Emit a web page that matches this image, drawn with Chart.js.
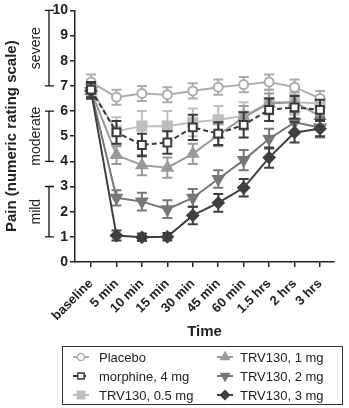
<!DOCTYPE html>
<html>
<head>
<meta charset="utf-8">
<script src="https://cdn.jsdelivr.net/npm/chart.js@4.4.0/dist/chart.umd.min.js"></script>
<style>
  html, body { margin: 0; background: #fff; }
</style>
</head>
<body>
<canvas id="pain" width="349" height="408"></canvas>
<script>
// time points after dosing
const timeLabels = ['baseline', '5 min', '10 min', '15 min', '30 min', '45 min', '60 min', '1.5 hrs', '2 hrs', '3 hrs'];

// mean pain score and SE per group
const placebo     = [7.15, 6.55, 6.7, 6.65, 6.8, 6.95, 7.05, 7.15, 6.95, 6.5];
const placeboSE   = [0.3, 0.3, 0.3, 0.3, 0.3, 0.3, 0.3, 0.3, 0.3, 0.3];
const morphine    = [6.85, 5.15, 4.65, 4.75, 5.35, 5.1, 5.45, 6.05, 6.15, 6.05];
const morphineSE  = [0.3, 0.45, 0.45, 0.45, 0.5, 0.45, 0.5, 0.45, 0.45, 0.4];
const trv05       = [6.9, 5.2, 5.4, 5.4, 5.55, 5.65, 5.8, 6.35, 6.35, 6.3];
const trv05SE     = [0.3, 0.55, 0.6, 0.6, 0.55, 0.55, 0.55, 0.5, 0.5, 0.5];
const trv1        = [6.8, 4.25, 3.85, 3.75, 4.3, 5.05, 5.75, 6.3, 6.35, 5.8];
const trv1SE      = [0.3, 0.35, 0.4, 0.4, 0.4, 0.45, 0.45, 0.4, 0.4, 0.4];
const trv2        = [6.8, 2.55, 2.4, 2.1, 2.55, 3.3, 4.05, 4.9, 5.55, 5.35];
const trv2SE      = [0.3, 0.3, 0.35, 0.35, 0.35, 0.35, 0.4, 0.4, 0.4, 0.4];
const trv3        = [6.8, 1.05, 0.98, 1.0, 1.85, 2.35, 2.95, 4.15, 5.15, 5.3];
const trv3SE      = [0.3, 0.2, 0.15, 0.15, 0.35, 0.35, 0.35, 0.4, 0.4, 0.3];

// severity bands on the rating scale
const bandNames  = ['severe', 'moderate', 'mild'];
const bandTop    = [10, 6, 3];
const bandBottom = [7, 4, 1];

const FONT = '"Liberation Sans", Arial, Helvetica, sans-serif';

function series(label, values, errors, style) {
  return Object.assign({
    label: label,
    data: values.map((v, i) => ({ x: i, y: v })),
    errors: errors,
    borderWidth: 2,
    pointBorderWidth: 2,
    pointHoverRadius: 0,
    tension: 0,
    fill: false
  }, style);
}

// legend order: first column then second column
const datasets = [
  series('Placebo', placebo, placeboSE, {
    borderColor: '#acacac', pointStyle: 'circle', pointRadius: 4.5,
    pointBackgroundColor: '#fff', order: 4
  }),
  series('morphine, 4 mg', morphine, morphineSE, {
    borderColor: '#3a3a3a', borderDash: [5, 3], pointStyle: 'rect', pointRadius: 5.5,
    pointBackgroundColor: '#fff', order: 1
  }),
  series('TRV130, 0.5 mg', trv05, trv05SE, {
    borderColor: '#bebebe', pointStyle: 'rect', pointRadius: 6.5,
    pointBackgroundColor: '#bebebe', order: 6
  }),
  series('TRV130, 1 mg', trv1, trv1SE, {
    borderColor: '#9a9a9a', pointStyle: 'triangle', pointRadius: 6,
    pointBackgroundColor: '#9a9a9a', order: 5
  }),
  series('TRV130, 2 mg', trv2, trv2SE, {
    borderColor: '#777', pointStyle: 'triangle', pointRotation: 180, pointRadius: 6,
    pointBackgroundColor: '#777', order: 3
  }),
  series('TRV130, 3 mg', trv3, trv3SE, {
    borderColor: '#3f3f3f', pointStyle: 'rectRot', pointRadius: 5.5,
    pointBackgroundColor: '#3f3f3f', order: 2
  })
];

// vertical SE whiskers with caps, drawn under each dataset
const errorBars = {
  id: 'errorBars',
  beforeDatasetDraw(chart, args) {
    const ds = chart.data.datasets[args.index];
    const y = chart.scales.y;
    const ctx = chart.ctx;
    ctx.save();
    ctx.strokeStyle = ds.borderColor;
    ctx.lineWidth = 2;
    ctx.setLineDash([]);
    args.meta.data.forEach((pt, i) => {
      const v = ds.data[i].y, e = ds.errors[i];
      const top = y.getPixelForValue(v + e);
      const bot = y.getPixelForValue(v - e);
      ctx.beginPath();
      ctx.moveTo(pt.x, top); ctx.lineTo(pt.x, bot);
      ctx.moveTo(pt.x - 5, top); ctx.lineTo(pt.x + 5, top);
      ctx.moveTo(pt.x - 5, bot); ctx.lineTo(pt.x + 5, bot);
      ctx.stroke();
    });
    ctx.restore();
  }
};

// brackets + labels for severe / moderate / mild
const ratingBands = {
  id: 'ratingBands',
  afterDraw(chart) {
    const y = chart.scales.y;
    const ctx = chart.ctx;
    ctx.save();
    ctx.strokeStyle = '#111';
    ctx.lineWidth = 1.3;
    ctx.fillStyle = '#222';
    ctx.font = '14px ' + FONT;
    ctx.textAlign = 'center';
    ctx.textBaseline = 'middle';
    bandNames.forEach((name, i) => {
      const t = y.getPixelForValue(bandTop[i]);
      const b = y.getPixelForValue(bandBottom[i]);
      ctx.beginPath();
      ctx.moveTo(49, t); ctx.lineTo(49, b);
      ctx.moveTo(45, t); ctx.lineTo(54, t);
      ctx.moveTo(45, b); ctx.lineTo(54, b);
      ctx.stroke();
      ctx.save();
      ctx.translate(36, (t + b) / 2);
      ctx.rotate(-Math.PI / 2);
      ctx.fillText(name, 0, 0);
      ctx.restore();
    });
    ctx.restore();
  }
};

function drawMarker(ctx, ds, x, y, r) {
  ctx.beginPath();
  if (ds.pointStyle === 'circle') {
    ctx.arc(x, y, r, 0, Math.PI * 2);
  } else if (ds.pointStyle === 'rect') {
    const s = r * Math.SQRT1_2;
    ctx.rect(x - s, y - s, 2 * s, 2 * s);
  } else if (ds.pointStyle === 'rectRot') {
    ctx.moveTo(x, y - r); ctx.lineTo(x + r, y); ctx.lineTo(x, y + r); ctx.lineTo(x - r, y);
    ctx.closePath();
  } else if (ds.pointStyle === 'triangle') {
    const dir = ds.pointRotation === 180 ? -1 : 1;
    const h = r * 0.5, w = r * Math.sin(Math.PI / 3);
    ctx.moveTo(x, y - dir * r);
    ctx.lineTo(x + w, y + dir * h);
    ctx.lineTo(x - w, y + dir * h);
    ctx.closePath();
  }
  ctx.fill();
  ctx.stroke();
}

// boxed two-column legend under the axis title
const boxLegend = {
  id: 'boxLegend',
  afterDraw(chart) {
    const ctx = chart.ctx;
    ctx.save();
    ctx.strokeStyle = '#333';
    ctx.lineWidth = 1;
    ctx.strokeRect(62.5, 346.5, 280, 58);
    ctx.font = '13px ' + FONT;
    ctx.textBaseline = 'middle';
    ctx.textAlign = 'left';
    const sampleX = [73, 217];
    const textX = [99, 240];
    const rowY = [357, 376, 395];
    chart.data.datasets.forEach((ds, i) => {
      const col = Math.floor(i / 3), row = i % 3;
      const x0 = sampleX[col], y0 = rowY[row];
      ctx.strokeStyle = ds.borderColor;
      ctx.lineWidth = 2;
      ctx.setLineDash(ds.borderDash || []);
      ctx.beginPath();
      ctx.moveTo(x0, y0); ctx.lineTo(x0 + 16, y0);
      ctx.stroke();
      ctx.setLineDash([]);
      ctx.fillStyle = ds.pointBackgroundColor;
      ctx.lineWidth = 1.5;
      drawMarker(ctx, ds, x0 + 8, y0, ds.pointRadius * 0.8);
      ctx.fillStyle = '#222';
      ctx.fillText(ds.label, textX[col], y0 + 1);
    });
    ctx.restore();
  }
};

new Chart(document.getElementById('pain'), {
  type: 'line',
  data: { datasets: datasets },
  plugins: [errorBars, ratingBands, boxLegend],
  options: {
    responsive: false,
    animation: false,
    layout: { padding: { top: 0, right: 15, bottom: 67, left: 0 } },
    plugins: {
      legend: { display: false },
      tooltip: { enabled: false }
    },
    scales: {
      x: {
        type: 'linear',
        min: -0.63,
        max: 9.55,
        afterBuildTicks(scale) {
          scale.ticks = timeLabels.map((_, i) => ({ value: i }));
        },
        afterFit(scale) { scale.height = 79; },
        ticks: {
          autoSkip: false,
          minRotation: 45,
          maxRotation: 45,
          padding: 9,
          color: '#222',
          font: { family: FONT, size: 13, weight: 'bold' },
          callback: (v) => timeLabels[v]
        },
        grid: { drawOnChartArea: false, color: '#222', lineWidth: 1.5, tickLength: 5 },
        border: { color: '#222', width: 1.5 },
        title: {
          display: true,
          text: 'Time',
          color: '#222',
          padding: { top: 0, bottom: 0 },
          font: { family: FONT, size: 15, weight: 'bold' }
        }
      },
      y: {
        min: 0,
        max: 10,
        afterFit(scale) { scale.width = 75; },
        ticks: {
          stepSize: 1,
          padding: 2,
          color: '#222',
          font: { family: FONT, size: 14, weight: 'bold' }
        },
        grid: { drawOnChartArea: false, color: '#222', lineWidth: 1.5, tickLength: 5 },
        border: { color: '#222', width: 1.5 },
        title: {
          display: true,
          text: 'Pain (numeric rating scale)',
          color: '#222',
          padding: { top: 3, bottom: 0 },
          font: { family: FONT, size: 15, weight: 'bold' }
        }
      }
    }
  }
});
</script>
</body>
</html>
